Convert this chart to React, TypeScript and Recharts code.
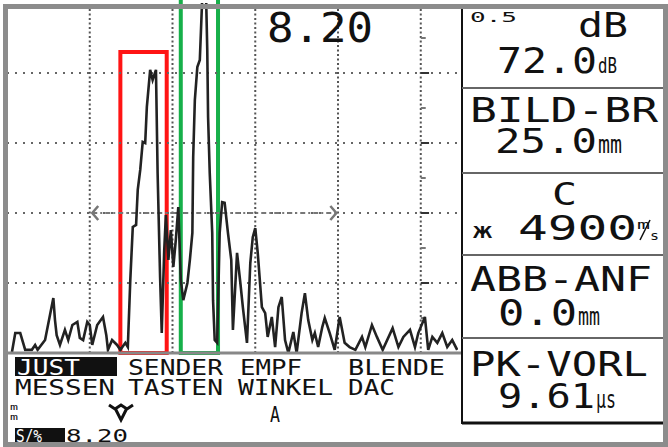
import { LineChart, Line, XAxis, YAxis, ReferenceLine, ReferenceArea, ReferenceDot } from "recharts";

// A-scan: sound path in screen divisions, echo height in % screen height
const echoPos = [
  0.06, 0.1, 0.16, 0.22, 0.3, 0.34, 0.37, 0.46, 0.52, 0.56, 0.58, 0.6, 0.64, 0.7, 0.74, 0.79, 0.85, 0.88, 0.92, 0.97,
  1.0, 1.03, 1.09, 1.16, 1.2, 1.22, 1.27, 1.33, 1.37, 1.43, 1.46, 1.49, 1.52, 1.56, 1.57, 1.58, 1.61, 1.64, 1.67, 1.69,
  1.73, 1.76, 1.8, 1.82, 1.85, 1.87, 1.9, 1.92, 1.95, 1.98, 2.01, 2.04, 2.07, 2.1, 2.13, 2.18, 2.21, 2.24, 2.25, 2.27,
  2.3, 2.33, 2.37, 2.4, 2.42, 2.43, 2.45, 2.48, 2.49, 2.51, 2.54, 2.57, 2.6, 2.63, 2.67, 2.71, 2.73, 2.78, 2.82, 2.85,
  2.9, 2.94, 2.97, 3.0, 3.03, 3.08, 3.12, 3.15, 3.2, 3.24, 3.28, 3.32, 3.36, 3.4, 3.46, 3.5, 3.56, 3.6, 3.64, 3.69,
  3.72, 3.76, 3.81, 3.84, 3.9, 3.96, 4.02, 4.08, 4.14, 4.21, 4.29, 4.33, 4.41, 4.47, 4.54, 4.66, 4.73, 4.79, 4.87, 4.93,
  4.97, 5.05, 5.09, 5.14, 5.2, 5.26, 5.32, 5.38, 5.44,
];
const echoAmp = [
  0.3, 5.7, 5.7, 0.9, 0.9, 2.3, 0.9, 3.7, 10.9, 15.7, 9.4, 5.1, 2.3, 6.6, 3.7, 8.0, 8.9, 4.3, 3.7, 8.9,
  8.0, 2.3, 8.0, 10.3, 5.1, 0.9, 3.7, 2.3, 0.9, 2.9, 1.7, 20.9, 36.0, 36.6, 41.7, 46.6, 52.3, 60.3, 60.0, 70.3,
  80.9, 78.0, 80.9, 51.4, 21.7, 5.7, 29.4, 39.4, 26.6, 35.1, 24.6, 32.3, 41.7, 20.9, 15.1, 20.0, 26.6, 34.3, 56.0, 72.3,
  81.7, 83.7, 108, 108, 86.6, 67.4, 51.4, 34.3, 15.1, 3.7, 2.9, 34.3, 43.1, 42.9, 34.3, 26.6, 6.6, 28.6, 20.0, 13.1,
  2.9, 25.7, 33.1, 35.7, 28.6, 13.1, 11.4, 4.6, 10.3, 1.7, 13.1, 16.0, 3.7, 0, 6.0, 0, 11.4, 17.1, 9.4, 3.7,
  5.7, 1.7, 7.4, 10.0, 5.7, 0.9, 10.3, 2.9, 1.7, 0.9, 4.6, 1.7, 8.0, 4.6, 0.9, 7.1, 1.7, 4.6, 6.6, 1.7,
  5.7, 10.3, 0.9, 4.6, 2.9, 5.7, 1.7, 3.7, 0.9,
];

const gridX = [1, 2, 3, 4, 5];
const gridY = [20, 40, 60, 80];
const scaleMinor = [10, 30, 50, 70, 90];

const gateA = { start: 1.37, end: 1.93, top: 86 };
const gateB = { start: 2.1, end: 2.55, top: 104 };
const evalLine = { start: 1.03, end: 3.98, level: 40 };

const echoData = echoPos.map((pos, i) => ({ pos, amp: echoAmp[i] }));

const MONO = "'DejaVu Sans Mono', monospace";

function T({ x, y, s, w, children, fill = "#111" }: any) {
  return (
    <text x={x} y={y} fontSize={s} textLength={w} lengthAdjust="spacingAndGlyphs" fill={fill} fontFamily={MONO}>
      {children}
    </text>
  );
}

function Chevron({ cx, cy, dir }: any) {
  const d = dir < 0 ? `M${cx + 6},${cy - 7} L${cx},${cy} L${cx + 6},${cy + 7}` : `M${cx - 6},${cy - 7} L${cx},${cy} L${cx - 6},${cy + 7}`;
  return <path d={d} stroke="#777" strokeWidth={2.5} fill="none" />;
}

export default function App() {
  return (
    <div style={{ position: "absolute", left: 0, top: 0, width: 668, height: 447, background: "#fff" }}>
      <LineChart width={668} height={447} data={echoData} margin={{ top: 3, right: 210, bottom: 94, left: 7 }}>
        <XAxis type="number" dataKey="pos" domain={[0, 5.45]} hide allowDataOverflow />
        <YAxis type="number" domain={[0, 100]} hide allowDataOverflow />
        {gridY.map((v) => (
          <ReferenceLine key={"h" + v} y={v} stroke="#666" strokeWidth={2} strokeDasharray="2 6" />
        ))}
        {gridX.map((v) => (
          <ReferenceLine key={"v" + v} x={v} stroke="#555" strokeWidth={2} strokeDasharray="2 2.5" />
        ))}
        {scaleMinor.map((v) => (
          <ReferenceLine key={"m" + v} segment={[{ x: 5, y: v }, { x: 5.06, y: v }]} stroke="#777" strokeWidth={2} />
        ))}
        {gridY.map((v) => (
          <ReferenceLine key={"t" + v} segment={[{ x: 5, y: v }, { x: 5.1, y: v }]} stroke="#333" strokeWidth={2} />
        ))}
        <ReferenceLine
          segment={[{ x: evalLine.start, y: evalLine.level }, { x: evalLine.end, y: evalLine.level }]}
          stroke="#777"
          strokeWidth={2}
          strokeDasharray="5 3 2 3"
        />
        <ReferenceDot x={evalLine.start} y={evalLine.level} shape={(p: any) => <Chevron {...p} dir={-1} />} />
        <ReferenceDot x={evalLine.end} y={evalLine.level} shape={(p: any) => <Chevron {...p} dir={1} />} />
        <Line
          type="linear"
          dataKey="amp"
          stroke="#222"
          strokeWidth={2.6}
          strokeLinejoin="miter"
          dot={false}
          isAnimationActive={false}
        />
        <ReferenceArea x1={gateA.start} x2={gateA.end} y1={0} y2={gateA.top} fill="none" stroke="#ff1414" strokeWidth={4} ifOverflow="visible" />
        <ReferenceArea x1={gateB.start} x2={gateB.end} y1={0} y2={gateB.top} fill="none" stroke="#17b04a" strokeWidth={4} ifOverflow="visible" />
      </LineChart>

      <svg width={668} height={447} style={{ position: "absolute", left: 0, top: 0, pointerEvents: "none" }}>
        {/* screen baseline and parameter panel */}
        <line x1={8} y1={353} x2={462} y2={353} stroke="#888" strokeWidth={3} />
        <line x1={462} y1={9} x2={462} y2={424} stroke="#111" strokeWidth={2} />
        {[88, 173, 255, 338].map((y) => (
          <line key={y} x1={462} y1={y} x2={663} y2={y} stroke="#666" strokeWidth={2} />
        ))}
        <line x1={462} y1={423} x2={663} y2={423} stroke="#111" strokeWidth={3} />

        <T x={267} y={42} s={40} w={106}>8.20</T>

        <T x={470} y={22} s={14} w={47}>0.5</T>
        <T x={578} y={37} s={33} w={50}>dB</T>
        <T x={497} y={73} s={36} w={100}>72.0</T>
        <T x={598} y={73} s={22} w={19}>dB</T>

        <T x={470} y={122} s={33} w={188}>BILD-BR</T>
        <T x={495} y={153} s={34} w={102}>25.0</T>
        <T x={598} y={153} s={24} w={24}>mm</T>

        <T x={552} y={205} s={32} w={25}>C</T>
        <T x={472} y={238} s={22} w={21}>ж</T>
        <T x={518} y={240} s={34} w={119}>4900</T>
        <T x={637} y={229} s={12} w={13}>m</T>
        <line x1={650} y1={220} x2={640} y2={240} stroke="#111" strokeWidth={1.5} />
        <T x={650} y={240} s={13} w={9}>s</T>

        <T x={470} y={291} s={34} w={182}>ABB-ANF</T>
        <T x={498} y={325} s={35} w={79}>0.0</T>
        <T x={578} y={325} s={24} w={22}>mm</T>

        <T x={470} y={376} s={34} w={178}>PK-VORL</T>
        <T x={498} y={408} s={34} w={97}>9.61</T>
        <T x={596} y={408} s={24} w={20}>µs</T>

        {/* soft-key menu */}
        <rect x={15} y={357} width={102} height={19} fill="#111" />
        <T x={17} y={375} s={22} w={63} fill="#fff">JUST</T>
        <T x={128} y={375} s={22} w={95}>SENDER</T>
        <T x={240} y={375} s={22} w={62}>EMPF</T>
        <T x={348} y={375} s={22} w={97}>BLENDE</T>
        <T x={15} y={395} s={21} w={100}>MESSEN</T>
        <T x={128} y={395} s={21} w={95}>TASTEN</T>
        <T x={238} y={395} s={21} w={95}>WINKEL</T>
        <T x={348} y={395} s={21} w={47}>DAC</T>

        <T x={10} y={410} s={9} w={8}>m</T>
        <T x={10} y={420} s={9} w={8}>m</T>
        <path d="M109,405 L115,409 L121,405 L127,409 L133,405 M115,408 L121,420 L127,408" stroke="#111" strokeWidth={3} fill="none" />
        <T x={270} y={422} s={22} w={10}>A</T>

        <rect x={15} y={428} width={50} height={14} fill="#111" />
        <T x={16} y={442} s={17} w={26} fill="#fff">S/%</T>
        <T x={66} y={442} s={18} w={62}>8.20</T>

        {/* bezel */}
        <rect x={5.5} y={6.5} width={660} height={438} fill="none" stroke="#8c8c8c" strokeWidth={5} />
      </svg>
    </div>
  );
}
